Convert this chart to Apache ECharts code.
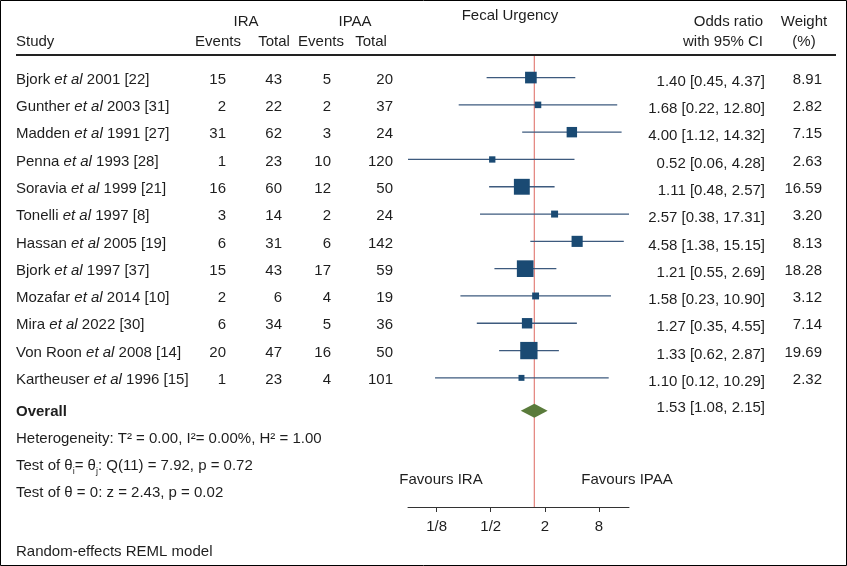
<!DOCTYPE html>
<html lang="en">
<head>
<meta charset="UTF-8">
<title>Fecal Urgency</title>
<script src="https://cdn.jsdelivr.net/npm/echarts@6/dist/echarts.min.js"></script>
<style>
  html, body { margin: 0; padding: 0; background: #fff; }
  #main { width: 847px; height: 566px; }
</style>
</head>
<body>
<div id="main"></div>
<script>
// study data
var authors = ['Bjork', 'Gunther', 'Madden', 'Penna', 'Soravia', 'Tonelli', 'Hassan', 'Bjork', 'Mozafar', 'Mira', 'Von Roon', 'Kartheuser'];
var years = [2001, 2003, 1991, 1993, 1999, 1997, 2005, 1997, 2014, 2022, 2008, 1996];
var refs = [22, 31, 27, 28, 21, 8, 19, 37, 10, 30, 14, 15];
var iraEvents = [15, 2, 31, 1, 16, 3, 6, 15, 2, 6, 20, 1];
var iraTotal = [43, 22, 62, 23, 60, 14, 31, 43, 6, 34, 47, 23];
var ipaaEvents = [5, 2, 3, 10, 12, 2, 6, 17, 4, 5, 16, 4];
var ipaaTotal = [20, 37, 24, 120, 50, 24, 142, 59, 19, 36, 50, 101];
var oddsRatio = [1.40, 1.68, 4.00, 0.52, 1.11, 2.57, 4.58, 1.21, 1.58, 1.27, 1.33, 1.10];
var ciLow = [0.45, 0.22, 1.12, 0.06, 0.48, 0.38, 1.38, 0.55, 0.23, 0.35, 0.62, 0.12];
var ciHigh = [4.37, 12.80, 14.32, 4.28, 2.57, 17.31, 15.15, 2.69, 10.90, 4.55, 2.87, 10.29];
var weights = [8.91, 2.82, 7.15, 2.63, 16.59, 3.20, 8.13, 18.28, 3.12, 7.14, 19.69, 2.32];
var overall = [1.53, 1.08, 2.15]; // estimate, low, high
var tickValues = [1 / 8, 1 / 2, 2, 8];
var tickLabels = ['1/8', '1/2', '2', '8'];

var FONT = '"Liberation Sans", Arial, sans-serif';
var FS = 15;
var TXT = '#1e1e1e';
var BOX = '#1a4a73';
var CI = '#3d5a7e';
var DIAMOND = '#5a7b3b';
var RED = '#e58a84';
var OVERALL_ROW = 12.2;

function log2(v) { return Math.log(v) / Math.LN2; }
function f2(v) { return v.toFixed(2); }

var logTicks = tickValues.map(log2);
var tickMap = {};
logTicks.forEach(function (v, i) { tickMap[Math.round(v)] = tickLabels[i]; });

var rows = oddsRatio.map(function (v, i) {
    return [log2(v), i, log2(ciLow[i]), log2(ciHigh[i]), weights[i]];
});

var myChart = echarts.init(document.getElementById('main'));

function txt(x, y, s, align, extra) {
    var st = { text: s, x: x, y: y, align: align || 'left', verticalAlign: 'middle',
        fontFamily: FONT, fontSize: FS, fill: TXT };
    if (extra) Object.keys(extra).forEach(function (k) { st[k] = extra[k]; });
    return { type: 'text', style: st, silent: true };
}

var option = {
    backgroundColor: '#fff',
    animation: false,
    grid: { left: 408, width: 221, top: 56, bottom: 59 },
    xAxis: {
        type: 'value',
        min: log2(Math.min.apply(null, ciLow)),
        max: log2(Math.max.apply(null, ciHigh)),
        splitLine: { show: false },
        axisLine: { show: true, onZero: false, lineStyle: { color: '#333', width: 1 } },
        axisTick: { show: true, customValues: logTicks, length: 5, lineStyle: { color: '#333' } },
        axisLabel: {
            customValues: logTicks,
            margin: 12,
            color: TXT, fontSize: FS, fontFamily: FONT,
            formatter: function (v) { return tickMap[Math.round(v)] || ''; }
        }
    },
    yAxis: { type: 'value', inverse: true, min: -0.79, max: 15.73, show: false },
    graphic: [
        { type: 'rect', shape: { x: 0.5, y: 0.5, width: 846, height: 565 },
          style: { fill: 'none', stroke: '#000', lineWidth: 1 }, silent: true },
        { type: 'line', shape: { x1: 16, y1: 55, x2: 836, y2: 55 },
          style: { stroke: '#222', lineWidth: 2 }, silent: true },
        txt(510, 16, 'Fecal Urgency', 'center'),
        txt(246, 22, 'IRA', 'center'),
        txt(355, 22, 'IPAA', 'center'),
        txt(16, 42, 'Study', 'left'),
        txt(218, 42, 'Events', 'center'),
        txt(274, 42, 'Total', 'center'),
        txt(321, 42, 'Events', 'center'),
        txt(371, 42, 'Total', 'center'),
        txt(763, 22, 'Odds ratio', 'right'),
        txt(763, 42, 'with 95% CI', 'right'),
        txt(804, 22, 'Weight', 'center'),
        txt(804, 42, '(%)', 'center'),
        txt(16, 412, 'Overall', 'left', { fontWeight: 'bold' }),
        txt(16, 439, 'Heterogeneity: T\u00b2 = 0.00, I\u00b2= 0.00%, H\u00b2 = 1.00', 'left'),
        {
            type: 'text', silent: true,
            style: {
                text: '{n|Test of \u03b8}{s|i}{n|= \u03b8}{s|j}{n|: Q(11) = 7.92, p = 0.72}',
                x: 16, y: 466, align: 'left', verticalAlign: 'middle',
                rich: {
                    n: { fontFamily: FONT, fontSize: FS, fill: TXT, lineHeight: 20 },
                    s: { fontFamily: FONT, fontSize: 9, fill: TXT, lineHeight: 9, verticalAlign: 'bottom' }
                }
            }
        },
        txt(16, 493, 'Test of \u03b8 = 0: z = 2.43, p = 0.02', 'left'),
        txt(16, 552, 'Random-effects REML model', 'left'),
        txt(441, 480, 'Favours IRA', 'center'),
        txt(627, 480, 'Favours IPAA', 'center')
    ],
    series: [
        {
            // vertical line at the overall estimate
            type: 'line', silent: true, symbol: 'none', z: 1,
            lineStyle: { color: RED, width: 1.3 },
            data: [[log2(overall[0]), -0.79], [log2(overall[0]), 15.73]]
        },
        {
            // CI whiskers and weight boxes
            type: 'custom', z: 3, silent: true,
            data: rows,
            renderItem: function (params, api) {
                var p = api.coord([api.value(0), api.value(1)]);
                var lo = api.coord([api.value(2), api.value(1)]);
                var hi = api.coord([api.value(3), api.value(1)]);
                var s = 3.9 * Math.sqrt(api.value(4));
                return {
                    type: 'group',
                    children: [
                        { type: 'line', shape: { x1: lo[0], y1: p[1], x2: hi[0], y2: p[1] },
                          style: { stroke: CI, lineWidth: 1.3 } },
                        { type: 'rect', shape: { x: p[0] - s / 2, y: p[1] - s / 2, width: s, height: s },
                          style: { fill: BOX } }
                    ]
                };
            }
        },
        {
            // overall diamond
            type: 'custom', z: 3, silent: true,
            data: [[log2(overall[0]), OVERALL_ROW, log2(overall[1]), log2(overall[2])]],
            renderItem: function (params, api) {
                var c = api.coord([api.value(0), api.value(1)]);
                var l = api.coord([api.value(2), api.value(1)]);
                var r = api.coord([api.value(3), api.value(1)]);
                var h = 7;
                return {
                    type: 'polygon',
                    shape: { points: [[l[0], c[1]], [c[0], c[1] - h], [r[0], c[1]], [c[0], c[1] + h]] },
                    style: { fill: DIAMOND }
                };
            }
        },
        {
            // table text for each study row
            type: 'custom', z: 4, silent: true, clip: false,
            data: authors.map(function (a, i) { return [0, i]; }),
            renderItem: function (params, api) {
                var i = params.dataIndex;
                var y = api.coord([0, api.value(1)])[1] + 2;
                var name = '{n|' + authors[i] + ' }{i|et al}{n| ' + years[i] + ' [' + refs[i] + ']}';
                return {
                    type: 'group',
                    children: [
                        { type: 'text', style: { text: name, x: 16, y: y, align: 'left', verticalAlign: 'middle',
                            rich: { n: { fontFamily: FONT, fontSize: FS, fill: TXT },
                                    i: { fontFamily: FONT, fontSize: FS, fill: TXT, fontStyle: 'italic' } } } },
                        txt(226, y, String(iraEvents[i]), 'right'),
                        txt(282, y, String(iraTotal[i]), 'right'),
                        txt(331, y, String(ipaaEvents[i]), 'right'),
                        txt(393, y, String(ipaaTotal[i]), 'right'),
                        txt(765, y + 2, f2(oddsRatio[i]) + ' [' + f2(ciLow[i]) + ', ' + f2(ciHigh[i]) + ']', 'right'),
                        txt(822, y, f2(weights[i]), 'right')
                    ]
                };
            }
        },
        {
            // overall estimate text
            type: 'custom', z: 4, silent: true, clip: false,
            data: [[0, OVERALL_ROW]],
            renderItem: function (params, api) {
                var y = api.coord([0, api.value(1)])[1] - 3;
                return txt(765, y, f2(overall[0]) + ' [' + f2(overall[1]) + ', ' + f2(overall[2]) + ']', 'right');
            }
        }
    ]
};
myChart.setOption(option);
</script>
</body>
</html>
